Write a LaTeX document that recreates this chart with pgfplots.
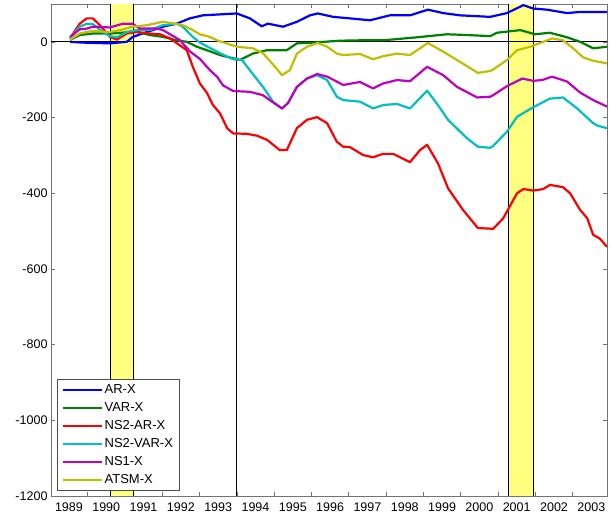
\documentclass[border=0pt]{standalone}
\usepackage{fontspec}
\setmainfont{Liberation Sans}
\usepackage{pgfplots}
\pgfplotsset{compat=1.18}
\definecolor{bandyellow}{rgb}{1,1,0.5}
\definecolor{cgreen}{rgb}{0,0.5,0}
\definecolor{ccyan}{rgb}{0,0.75,0.75}
\definecolor{cmag}{rgb}{0.75,0,0.75}
\definecolor{colive}{rgb}{0.75,0.75,0}
\begin{document}
\begin{tikzpicture}
\begin{axis}[
  scale only axis, width=556pt, height=492pt,
  xmin=1989.02, xmax=2003.92, ymin=-1200, ymax=100,
  xtick={1990,1991,...,2003}, xticklabels={},
  extra x ticks={1989.5,1990.5,1991.5,1992.5,1993.5,1994.5,1995.5,1996.5,1997.5,1998.5,1999.5,2000.5,2001.5,2002.5,2003.5},
  extra x tick labels={1989,1990,1991,1992,1993,1994,1995,1996,1997,1998,1999,2000,2001,2002,2003},
  extra x tick style={major tick length=0pt},
  ytick={-1200,-1000,-800,-600,-400,-200,0},
  yticklabels={-1200,-1000,-800,-600,-400,-200,0},
  tick align=inside, major tick length=4pt,
  axis line style={black!55, line width=0.8pt},
  tick style={black!55, line width=0.6pt},
  tick label style={font=\fontsize{12.5}{15}\selectfont},
  xticklabel style={yshift=-3.5pt},
  legend style={at={(0.011,0.0102)}, anchor=south west, draw=black!70, line width=0.6pt,
    font=\fontsize{13}{15}\selectfont, inner xsep=4pt, inner ysep=3.5pt, row sep=3.5pt},
  legend cell align=left,
  legend image code/.code={\draw[#1] (0pt,0pt) -- (39pt,0pt);},
  every axis plot/.append style={line width=2.2pt, line join=round},
]
% recession bands
\addplot[draw=none, fill=bandyellow, line width=0pt, forget plot] coordinates {(1990.60,-1200) (1990.60,100) (1991.24,100) (1991.24,-1200)} -- cycle;
\addplot[draw=none, fill=bandyellow, line width=0pt, forget plot] coordinates {(2001.29,-1200) (2001.29,100) (2001.95,100) (2001.95,-1200)} -- cycle;
\addplot[black, line width=0.8pt, forget plot] coordinates {(1990.60,-1200) (1990.60,100)};
\addplot[black, line width=0.8pt, forget plot] coordinates {(1991.24,-1200) (1991.24,100)};
\addplot[black, line width=0.8pt, forget plot] coordinates {(2001.29,-1200) (2001.29,100)};
\addplot[black, line width=0.8pt, forget plot] coordinates {(2001.95,-1200) (2001.95,100)};
\addplot[black, line width=0.8pt, forget plot] coordinates {(1994.00,-1200) (1994.00,100)};
\addplot[black, line width=0.9pt, forget plot] coordinates {(1989.02,0) (2003.92,0)};
% AR-X
\addplot[blue] coordinates {(1989.53,0) (1989.87,-2) (1990.60,-4) (1991.05,0) (1991.21,13) (1991.59,26) (1992.02,40) (1992.39,48) (1992.74,62) (1993.09,70) (1994.00,75) (1994.35,62) (1994.67,41) (1994.83,48) (1995.24,40) (1995.61,53) (1995.96,70) (1996.17,75) (1996.58,66) (1997.03,62) (1997.57,57) (1998.10,70) (1998.64,70) (1999.12,85) (1999.53,76) (1999.98,70) (2000.79,66) (2001.24,76) (2001.68,97) (2001.94,88) (2002.31,85) (2002.85,76) (2003.20,79) (2003.92,79)};
\addlegendentry{AR-X}
% VAR-X
\addplot[cgreen] coordinates {(1989.53,5) (1989.79,18) (1990.14,22) (1990.60,22) (1991.05,25) (1991.32,26) (1991.67,18) (1992.02,13) (1992.39,4) (1992.66,0) (1992.93,-13) (1993.28,-25) (1993.55,-35) (1994.08,-48) (1994.43,-31) (1994.81,-22) (1995.34,-22) (1995.61,-4) (1996.04,-2) (1996.76,3) (1997.30,4) (1997.92,4) (1998.83,12) (1999.63,20) (2000.17,18) (2000.79,15) (2000.97,24) (2001.60,31) (2001.99,20) (2002.39,24) (2002.85,12) (2003.20,0) (2003.55,-17) (2003.92,-13)};
\addlegendentry{VAR-X}
% NS2-AR-X
\addplot[red] coordinates {(1989.53,9) (1989.79,48) (1989.98,62) (1990.14,62) (1990.33,44) (1990.60,13) (1990.79,6) (1991.05,22) (1991.32,26) (1991.67,22) (1991.94,20) (1992.21,9) (1992.47,-9) (1992.66,-22) (1992.82,-66) (1993.01,-110) (1993.20,-135) (1993.36,-167) (1993.55,-189) (1993.74,-228) (1993.90,-242) (1994.27,-243) (1994.54,-248) (1994.81,-259) (1995.15,-286) (1995.34,-286) (1995.61,-228) (1995.88,-206) (1996.15,-199) (1996.42,-215) (1996.68,-264) (1996.85,-277) (1997.03,-278) (1997.38,-299) (1997.65,-305) (1997.92,-296) (1998.19,-296) (1998.64,-318) (1998.91,-286) (1999.10,-272) (1999.39,-321) (1999.66,-387) (2000.06,-444) (2000.46,-492) (2000.87,-494) (2001.14,-466) (2001.51,-400) (2001.68,-389) (2001.94,-393) (2002.21,-389) (2002.39,-378) (2002.74,-384) (2002.93,-400) (2003.20,-444) (2003.39,-466) (2003.55,-510) (2003.73,-520) (2003.92,-542)};
\addlegendentry{NS2-AR-X}
% NS2-VAR-X
\addplot[ccyan] coordinates {(1989.53,9) (1989.79,40) (1989.98,48) (1990.14,47) (1990.41,26) (1990.60,15) (1990.79,12) (1991.05,26) (1991.32,31) (1991.67,31) (1992.02,44) (1992.39,48) (1992.55,40) (1992.82,13) (1993.01,-2) (1993.55,-30) (1993.90,-46) (1994.14,-48) (1994.35,-75) (1994.70,-119) (1994.97,-158) (1995.21,-176) (1995.37,-162) (1995.61,-119) (1995.88,-97) (1996.15,-88) (1996.42,-101) (1996.68,-145) (1996.85,-154) (1997.30,-158) (1997.65,-176) (1997.92,-167) (1998.29,-164) (1998.64,-176) (1999.10,-129) (1999.39,-167) (1999.66,-206) (2000.17,-255) (2000.46,-277) (2000.79,-280) (2000.87,-275) (2001.24,-237) (2001.51,-198) (2001.94,-173) (2002.39,-150) (2002.74,-147) (2003.12,-176) (2003.55,-215) (2003.68,-222) (2003.92,-228)};
\addlegendentry{NS2-VAR-X}
% NS1-X
\addplot[cmag] coordinates {(1989.53,13) (1989.79,33) (1989.98,35) (1990.14,40) (1990.60,38) (1990.95,48) (1991.21,48) (1991.40,35) (1991.86,35) (1992.02,31) (1992.21,20) (1992.47,5) (1992.74,-25) (1993.01,-45) (1993.28,-75) (1993.47,-92) (1993.63,-115) (1993.90,-130) (1994.35,-132) (1994.70,-141) (1994.97,-160) (1995.21,-176) (1995.37,-162) (1995.61,-119) (1995.88,-97) (1996.15,-85) (1996.42,-92) (1996.68,-105) (1996.85,-114) (1997.30,-106) (1997.65,-123) (1997.92,-110) (1998.29,-101) (1998.64,-104) (1999.10,-66) (1999.53,-88) (1999.90,-119) (2000.44,-147) (2000.79,-145) (2000.87,-141) (2001.24,-117) (2001.65,-97) (2001.94,-103) (2002.18,-101) (2002.45,-92) (2002.85,-105) (2003.20,-134) (2003.55,-154) (2003.92,-171)};
\addlegendentry{NS1-X}
% ATSM-X
\addplot[colive] coordinates {(1989.53,6) (1989.79,22) (1990.14,29) (1990.60,26) (1990.87,31) (1991.21,40) (1991.59,44) (1992.02,53) (1992.39,47) (1992.55,44) (1992.82,31) (1993.01,20) (1993.28,13) (1993.47,4) (1994.00,-13) (1994.43,-17) (1994.70,-30) (1994.97,-60) (1995.21,-88) (1995.42,-75) (1995.61,-31) (1995.88,-13) (1996.17,-3) (1996.42,-13) (1996.68,-31) (1996.85,-35) (1997.30,-32) (1997.65,-46) (1997.92,-38) (1998.29,-31) (1998.64,-35) (1999.12,-3) (1999.53,-26) (1999.90,-48) (2000.46,-82) (2000.79,-77) (2000.87,-73) (2001.24,-48) (2001.51,-22) (2001.86,-13) (2002.13,-3) (2002.45,9) (2002.74,4) (2003.01,-17) (2003.28,-41) (2003.55,-50) (2003.92,-57)};
\addlegendentry{ATSM-X}
\end{axis}
\path ([xshift=-51pt,yshift=-25pt]current axis.south west) rectangle ([xshift=6pt,yshift=4pt]current axis.north east);
\end{tikzpicture}
\end{document}
